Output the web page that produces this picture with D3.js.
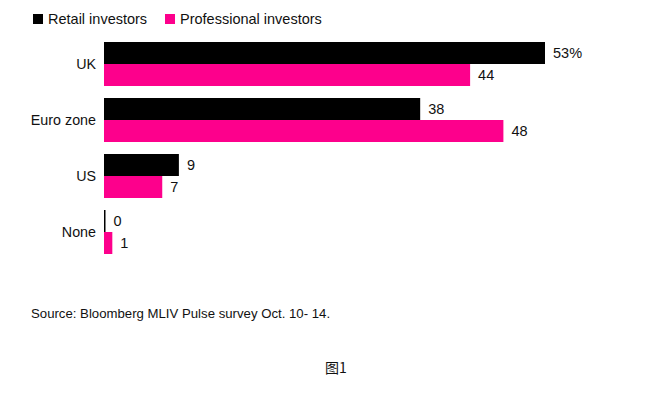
<!DOCTYPE html>
<html lang="en">
<head>
<meta charset="UTF-8">
<script src="https://d3js.org/d3.v7.min.js"></script>
<style>
  body { margin: 0; background: #fff; }
  svg text { font-family: "Liberation Sans", Arial, sans-serif; fill: #111; }
</style>
</head>
<body>
<div id="chart"></div>
<script>
    const categories = ["UK", "Euro zone", "US", "None"];
    const retail = [53, 38, 9, 0];
    const professional = [44, 48, 7, 1];
    const seriesNames = ["Retail investors", "Professional investors"];
    const colors = ["#000000", "#fd008c"];

    const width = 659, height = 395;

    const svg = d3.select("#chart").append("svg")
        .attr("width", width)
        .attr("height", height);

    // 0..53 -> 104..545
    const x = d3.scaleLinear().domain([0, 53]).range([104, 545]);

    // each group 44px tall, 56px step
    const y0 = d3.scaleBand().domain(categories).range([42, 42 + 56 * 4 - 12]).paddingInner(12 / 56);
    const sub = d3.scaleBand().domain([0, 1]).range([0, y0.bandwidth()]);

    const rows = categories.map((c, i) => ({ cat: c, vals: [retail[i], professional[i]] }));

    const groups = svg.selectAll("g.row").data(rows).join("g")
        .attr("class", "row")
        .attr("transform", d => `translate(0,${y0(d.cat)})`);

    groups.selectAll("rect").data(d => d.vals).join("rect")
        .attr("x", x(0))
        .attr("y", (d, i) => sub(i))
        .attr("width", d => Math.max(1.5, x(d) - x(0)))
        .attr("height", sub.bandwidth())
        .attr("fill", (d, i) => colors[i]);

    groups.selectAll("text.val").data((d, gi) => d.vals.map(v => ({ v, first: gi === 0 }))).join("text")
        .attr("class", "val")
        .attr("x", d => Math.max(x(d.v), x(0) + 1.5) + 8)
        .attr("y", (d, i) => sub(i) + sub.bandwidth() / 2)
        .attr("dy", "0.36em")
        .attr("font-size", 14.5)
        .text((d, i) => d.v + (d.first && i === 0 ? "%" : ""));

    groups.append("text")
        .attr("x", 96)
        .attr("y", y0.bandwidth() / 2)
        .attr("dy", "0.36em")
        .attr("text-anchor", "end")
        .attr("font-size", 14.3)
        .text(d => d.cat);

    // legend
    const legX = [33, 165];
    seriesNames.forEach((name, i) => {
        svg.append("rect")
            .attr("x", legX[i]).attr("y", 14)
            .attr("width", 10).attr("height", 10)
            .attr("fill", colors[i]);
        svg.append("text")
            .attr("x", legX[i] + 15).attr("y", 24)
            .attr("font-size", 14.5)
            .text(name);
    });

    svg.append("text")
        .attr("x", 31).attr("y", 318)
        .attr("font-size", 13.2)
        .text("Source: Bloomberg MLIV Pulse survey Oct. 10- 14.");

    svg.append("text")
        .attr("x", 325).attr("y", 373)
        .attr("font-size", 14)
        .style("font-family", "'Noto Sans CJK SC', sans-serif")
        .text("图1");
</script>
</body>
</html>
